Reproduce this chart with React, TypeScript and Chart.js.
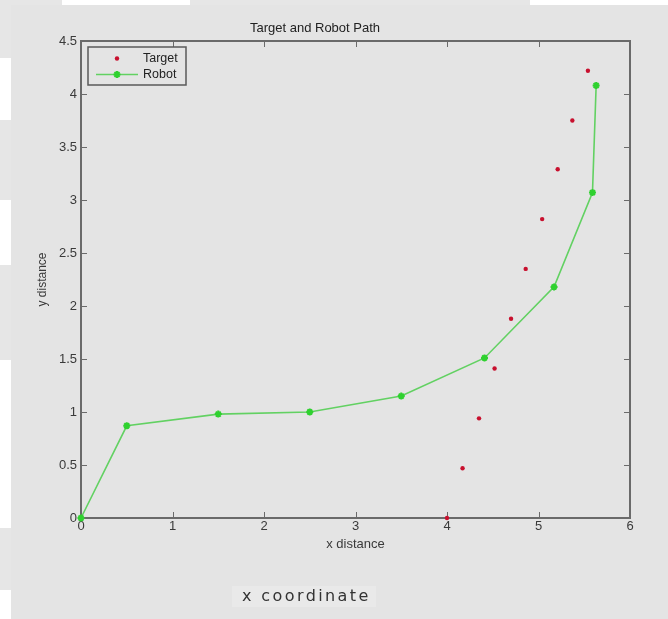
import React, { useEffect, useRef } from "react";
import { Chart, registerables } from "chart.js";

Chart.register(...registerables);

// ---- data ----
const robotX = [0, 0.5, 1.5, 2.5, 3.5, 4.41, 5.17, 5.59, 5.63];
const robotY = [0, 0.87, 0.98, 1.0, 1.15, 1.51, 2.18, 3.07, 4.08];
const targetX = [4.0, 4.17, 4.35, 4.52, 4.7, 4.86, 5.04, 5.21, 5.37, 5.54];
const targetY = [0, 0.47, 0.94, 1.41, 1.88, 2.35, 2.82, 3.29, 3.75, 4.22];
const xTicks = [0, 1, 2, 3, 4, 5, 6];
const yTicks = [0, 0.5, 1, 1.5, 2, 2.5, 3, 3.5, 4, 4.5];
const seriesNames = ["Target", "Robot"];
const titleText = "Target and Robot Path";
const xLabel = "x distance";
const yLabel = "y distance";
const captionText = "x coordinate";

const FONT = "'Liberation Sans', Arial, sans-serif";
const BG = "#e4e4e4";
const AXIS = "#6a6a6a";
const TEXT = "#3a3a3a";
const RED = "#c8102e";
const GREEN_LINE = "#62d162";
const GREEN_MARK = "#2fd12f";

function drawStar(ctx: CanvasRenderingContext2D, x: number, y: number, r: number) {
  ctx.beginPath();
  ctx.moveTo(x - r, y);
  ctx.lineTo(x + r, y);
  ctx.moveTo(x, y - r);
  ctx.lineTo(x, y + r);
  const d = r * Math.SQRT1_2;
  ctx.moveTo(x - d, y - d);
  ctx.lineTo(x + d, y + d);
  ctx.moveTo(x - d, y + d);
  ctx.lineTo(x + d, y - d);
  ctx.stroke();
}

const matlabPlugin = {
  id: "matlabAxes",
  beforeDatasetsDraw(chart: any) {
    const { ctx, chartArea, scales } = chart;
    const { left, right, top, bottom } = chartArea;
    ctx.save();
    ctx.strokeStyle = AXIS;
    ctx.lineWidth = 1;
    const tl = 6;
    ctx.beginPath();
    xTicks.forEach((v) => {
      const px = Math.round(scales.x.getPixelForValue(v)) + 0.5;
      ctx.moveTo(px, bottom);
      ctx.lineTo(px, bottom - tl);
      ctx.moveTo(px, top);
      ctx.lineTo(px, top + tl);
    });
    yTicks.forEach((v) => {
      const py = Math.round(scales.y.getPixelForValue(v)) + 0.5;
      ctx.moveTo(left, py);
      ctx.lineTo(left + tl, py);
      ctx.moveTo(right, py);
      ctx.lineTo(right - tl, py);
    });
    ctx.stroke();
    ctx.lineWidth = 2;
    ctx.strokeRect(left, top, right - left, bottom - top);
    ctx.restore();
  },
  afterDraw(chart: any) {
    const { ctx, chartArea } = chart;
    const bx = chartArea.left + 7;
    const by = chartArea.top + 6;
    const bw = 98;
    const bh = 38;
    ctx.save();
    ctx.fillStyle = BG;
    ctx.fillRect(bx, by, bw, bh);
    ctx.strokeStyle = "#5a5a5a";
    ctx.lineWidth = 1.5;
    ctx.strokeRect(bx, by, bw, bh);
    const row1 = by + 11.5;
    const row2 = by + 27.5;
    const mx = bx + 29;
    // target marker
    ctx.fillStyle = RED;
    ctx.beginPath();
    ctx.arc(mx, row1, 2.2, 0, Math.PI * 2);
    ctx.fill();
    // robot line + marker
    ctx.strokeStyle = GREEN_LINE;
    ctx.lineWidth = 1.6;
    ctx.beginPath();
    ctx.moveTo(bx + 8, row2);
    ctx.lineTo(bx + 50, row2);
    ctx.stroke();
    ctx.strokeStyle = GREEN_MARK;
    ctx.lineWidth = 2;
    drawStar(ctx, mx, row2, 3.5);
    ctx.fillStyle = "#222";
    ctx.font = `12.5px ${FONT}`;
    ctx.textBaseline = "middle";
    ctx.textAlign = "left";
    ctx.fillText(seriesNames[0], bx + 55, row1 + 0.5);
    ctx.fillText(seriesNames[1], bx + 55, row2 + 0.5);
    ctx.restore();
  },
};

export default function App() {
  const canvasRef = useRef<HTMLCanvasElement | null>(null);

  useEffect(() => {
    const canvas = canvasRef.current;
    if (!canvas) return;
    const chart = new Chart(canvas, {
      type: "scatter",
      data: {
        datasets: [
          {
            label: seriesNames[0],
            data: targetX.map((x, i) => ({ x, y: targetY[i] })),
            showLine: false,
            pointStyle: "circle",
            pointRadius: 2.2,
            pointBackgroundColor: RED,
            pointBorderColor: RED,
            pointBorderWidth: 0,
            clip: false,
          } as any,
          {
            label: seriesNames[1],
            data: robotX.map((x, i) => ({ x, y: robotY[i] })),
            showLine: true,
            borderColor: GREEN_LINE,
            borderWidth: 1.6,
            pointStyle: "star",
            pointRadius: 3.5,
            pointBorderWidth: 2,
            pointBorderColor: GREEN_MARK,
            pointBackgroundColor: GREEN_MARK,
            clip: false,
          } as any,
        ],
      },
      options: {
        animation: false,
        responsive: false,
        devicePixelRatio: 1,
        layout: { padding: { left: 0, right: 38, top: 0, bottom: 61 } },
        plugins: {
          legend: { display: false },
          tooltip: { enabled: false },
          title: {
            display: true,
            text: titleText,
            color: "#222",
            font: { family: FONT, size: 13, weight: "normal" as any },
            padding: { top: 20.2, bottom: 5.2 },
          },
        },
        scales: {
          x: {
            type: "linear",
            min: 0,
            max: 6,
            afterBuildTicks: (s: any) => {
              s.ticks = xTicks.map((v) => ({ value: v }));
            },
            afterFit: (s: any) => {
              s.height = 40;
            },
            ticks: {
              color: TEXT,
              font: { family: FONT, size: 13 },
              padding: 1,
              maxRotation: 0,
              callback: (v: any) => String(v),
            },
            grid: { display: false, drawTicks: false },
            border: { display: false },
            title: {
              display: true,
              text: xLabel,
              color: TEXT,
              font: { family: FONT, size: 13 },
              padding: { top: 0, bottom: 6.2 },
            },
          },
          y: {
            type: "linear",
            min: 0,
            max: 4.5,
            afterBuildTicks: (s: any) => {
              s.ticks = yTicks.map((v) => ({ value: v }));
            },
            afterFit: (s: any) => {
              s.width = 81;
            },
            ticks: {
              color: TEXT,
              font: { family: FONT, size: 13 },
              padding: 4,
              callback: (v: any) => String(v),
            },
            grid: { display: false, drawTicks: false },
            border: { display: false },
            title: {
              display: true,
              text: yLabel,
              color: TEXT,
              font: { family: FONT, size: 12 },
              padding: { top: 35.5, bottom: 0 },
            },
          },
        },
      },
      plugins: [matlabPlugin],
    });
    return () => chart.destroy();
  }, []);

  return (
    <div
      style={{
        position: "fixed",
        left: 0,
        top: 0,
        width: 668,
        height: 619,
        background: "#ffffff",
        overflow: "hidden",
      }}
    >
      {/* faint watermark pieces in the outer white margin */}
      <div style={{ position: "absolute", left: 0, top: 0, width: 62, height: 5, background: "#e6e6e6" }} />
      <div style={{ position: "absolute", left: 190, top: 0, width: 340, height: 5, background: "#e6e6e6" }} />
      <div style={{ position: "absolute", left: 0, top: 0, width: 11, height: 58, background: "#e6e6e6" }} />
      <div style={{ position: "absolute", left: 0, top: 120, width: 11, height: 80, background: "#e6e6e6" }} />
      <div style={{ position: "absolute", left: 0, top: 265, width: 11, height: 95, background: "#e6e6e6" }} />
      <div style={{ position: "absolute", left: 0, top: 528, width: 11, height: 62, background: "#e6e6e6" }} />
      {/* screenshot frame */}
      <div
        style={{
          position: "absolute",
          left: 11,
          top: 5,
          right: 0,
          bottom: 0,
          background: BG,
        }}
      />
      <div
        style={{
          position: "absolute",
          left: 232,
          top: 586,
          width: 144,
          height: 21,
          background: "#e9e9e9",
        }}
      />
      <canvas
        ref={canvasRef}
        width={668}
        height={619}
        style={{ position: "absolute", left: 0, top: 0, width: 668, height: 619 }}
      />
      <div
        style={{
          position: "absolute",
          left: 242,
          top: 587,
          fontFamily: "'DejaVu Sans', sans-serif",
          fontSize: 16,
          letterSpacing: 2.4,
          lineHeight: "18px",
          color: "#333",
          whiteSpace: "nowrap",
        }}
      >
        {captionText}
      </div>
    </div>
  );
}
